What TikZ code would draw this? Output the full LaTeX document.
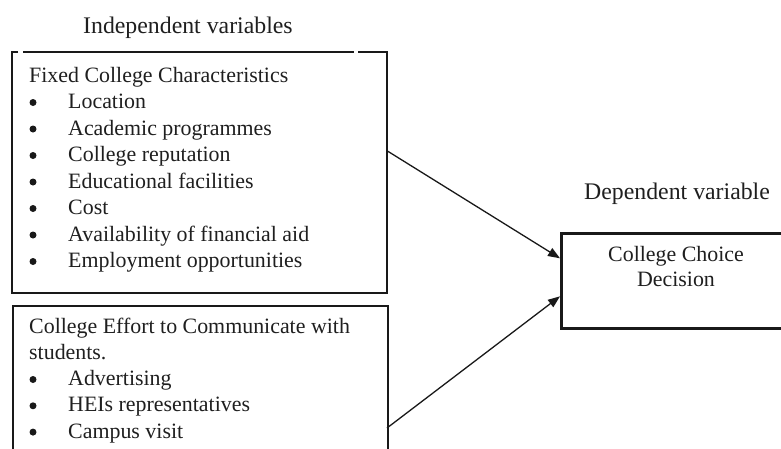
\documentclass[tikz,border=0pt]{standalone}
\usepackage{fontspec}
\setmainfont{Liberation Serif}
\usetikzlibrary{arrows.meta,calc}
\newcommand\bodysize{\fontsize{21.9}{26.5}\selectfont}
\newcommand\titlesize{\fontsize{23.8}{28}\selectfont}
\tikzset{
  boxline/.style={line width=2pt, draw=black!90},
  region/.style={inner sep=0pt, draw=none, anchor=north west},
  txt/.style={inner sep=0pt, anchor=base west, font=\bodysize, text=black!88},
  ttl/.style={inner sep=0pt, anchor=base west, font=\titlesize, text=black!88},
  ctr/.style={inner sep=0pt, anchor=base, font=\bodysize, text=black!88},
  bul/.style={circle, fill=black!90, inner sep=0pt, minimum size=7pt},
  conn/.style={line width=1.3pt, draw=black!90, -{Triangle[length=12pt,width=9pt]}}
}
\begin{document}
\begin{tikzpicture}[x=1pt,y=-1pt]
\clip (0,0) rectangle (781,448);
\fill[white] (0,0) rectangle (781,448);

% titles
\node[ttl] (indep) at (83,33) {Independent variables};
\node[ttl] (dep) at (584,199) {Dependent variable};

% fixed characteristics box
\node[region, minimum width=375pt, minimum height=241pt] (fixed) at (12,52) {};
\draw[boxline] ([xshift=6pt]fixed.north west) -- (fixed.north west) -- (fixed.south west)
  -- (fixed.south east) -- (fixed.north east) -- ([xshift=-29pt]fixed.north east);
\draw[boxline] ([xshift=11pt]fixed.north west) -- ([xshift=342pt]fixed.north west);

\node[txt] (fh) at (29,82) {Fixed College Characteristics};
\foreach \t [count=\i from 0] in {Location,Academic programmes,College reputation,Educational facilities,Cost,Availability of financial aid,Employment opportunities}{
  \node[bul] (fb\i) at (33,{102.5+26.5*\i}) {};
  \node[txt] (ft\i) at (68,{108.5+26.5*\i}) {\t};
}

% communication effort box
\node[region, boxline, draw, minimum width=375pt, minimum height=170pt] (effort) at (12,305) {};
\node[txt] (eh1) at (29,333) {College Effort to Communicate with};
\node[txt] (eh2) at (29,359) {students.};
\foreach \t [count=\i from 0] in {Advertising,HEIs representatives,Campus visit}{
  \node[bul] (eb\i) at (33,{379.5+26.3*\i}) {};
  \node[txt] (et\i) at (68,{385.5+26.3*\i}) {\t};
}

% decision box
\node[region, draw, line width=2.6pt, draw=black!90, minimum width=240pt, minimum height=95pt] (dec) at (560,232) {};
\node[ctr] (d1) at (676,261) {College Choice};
\node[ctr] (d2) at (676,286) {Decision};

% connectors
\coordinate (s1) at ($(fixed.north east)+(0,99)$);
\coordinate (s2) at ($(effort.north west)+(375,123)$);
\draw[conn] (s1) -- ([yshift=22.5pt]dec.west);
\draw[conn] (s2) -- ([yshift=-15.5pt]dec.west);
\end{tikzpicture}
\end{document}
